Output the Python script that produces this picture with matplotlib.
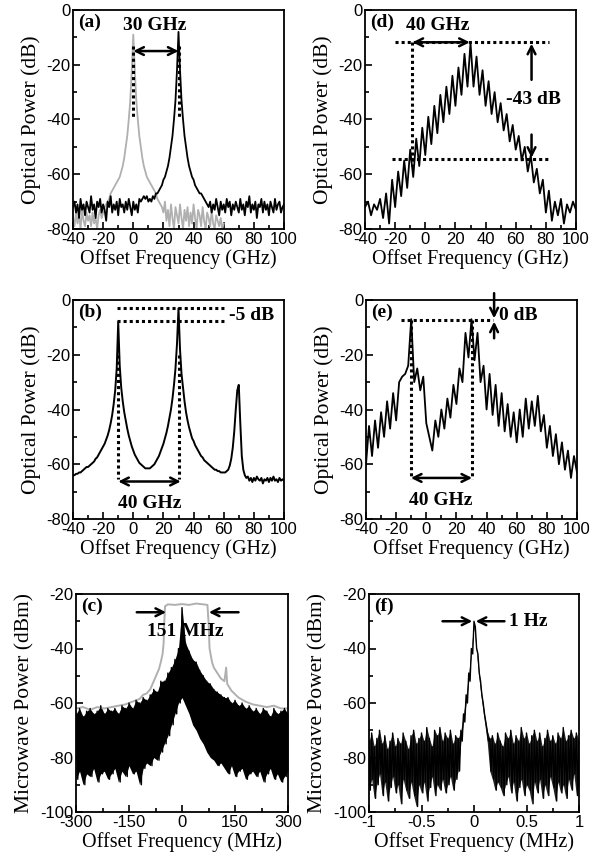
import numpy as np
import matplotlib
matplotlib.use("Agg")
import matplotlib.pyplot as plt
from matplotlib.ticker import MultipleLocator, FuncFormatter

plt.rcParams["font.family"] = ["Liberation Sans", "DejaVu Sans"]
plt.rcParams["axes.unicode_minus"] = False
SERIF = ["Liberation Serif", "DejaVu Serif"]
GREY = "#b0b0b0"

# ---- (a) two single lines, 1 GHz grid -40..100 (grey stops at 60)
a_freq = np.arange(-40, 101, 1)
a_black = [
    -72, -70, -74, -71, -76, -69, -73, -71, -75, -70,
    -72, -74, -68, -73, -71, -76, -70, -72, -69, -74,
    -71, -73, -77, -70, -72, -68, -74, -71, -73, -70,
    -75, -69, -72, -71, -74, -70, -73, -69, -72, -75,
    -70, -73, -71, -74, -69, -70, -69, -68, -69, -68,
    -70, -69, -70, -68, -69, -67, -67, -66, -65, -64,
    -62, -61, -59, -57, -54, -50, -46, -40, -33, -22,
    -8, -22, -33, -40, -46, -50, -54, -57, -59, -61,
    -62, -64, -65, -66, -67, -67, -68, -69, -70, -71,
    -72, -70, -74, -71, -73, -69, -72, -75, -70, -73,
    -71, -74, -69, -72, -70, -75, -71, -73, -70, -72,
    -74, -69, -73, -71, -75, -70, -72, -68, -74, -71,
    -73, -70, -76, -71, -72, -69, -74, -70, -73, -71,
    -75, -70, -72, -74, -69, -73, -71, -70, -74, -72,
    -71,
]
a_grey_freq = np.arange(-40, 61, 1)
a_grey = [
    -76, -79, -74, -78, -75, -80, -73, -77, -79, -74,
    -77, -75, -79, -74, -78, -76, -80, -75, -73, -76,
    -74, -72, -71, -70, -69, -67, -66, -65, -64, -63,
    -62, -61, -59, -57, -54, -50, -46, -40, -33, -22,
    -9, -22, -33, -40, -46, -50, -54, -57, -59, -61,
    -62, -63, -64, -65, -66, -67, -69, -70, -71, -72,
    -74, -70, -77, -73, -79, -71, -76, -80, -72, -75,
    -78, -71, -76, -80, -73, -77, -72, -79, -74, -78,
    -71, -76, -80, -73, -75, -79, -72, -77, -80, -74,
    -76, -79, -73, -78, -80, -75, -77, -79, -76, -80,
    -78,
]

# ---- (b) 1 GHz grid
b_freq = np.arange(-40, 101, 1)
b_power = [
    -64, -64, -63.5, -63.5, -63, -63, -62.5, -62, -61.5, -61,
    -61, -60.5, -60, -59.5, -59, -58, -57.5, -56.5, -55.5, -54.5,
    -53.5, -52.5, -51, -49.5, -47.5, -45, -42, -38, -33, -25,
    -8, -24, -32, -37, -41, -44, -47, -49.5, -51.5, -53.5,
    -55, -56.5, -57.5, -58.5, -59.5, -60, -60.5, -61, -61.5, -61.5,
    -61.5, -61.5, -61, -60.5, -60, -59, -58, -57, -55.5, -54,
    -52.5, -50.5, -48.5, -46, -43, -40, -36, -31, -25, -16,
    -3, -18, -27, -32, -37, -41, -44, -46.5, -48.5, -50.5,
    -51.5, -53, -54, -55, -56, -57, -57.5, -58.5, -59, -59.5,
    -60, -60.5, -61, -61.5, -62, -62, -62.5, -62.5, -63, -63,
    -63, -63, -62.5, -62, -60.5, -58, -54, -48, -40, -33,
    -31, -45, -57, -62, -64, -65, -64.5, -66, -65, -66.5,
    -65, -66, -64.5, -65.5, -66, -65, -67, -65.5, -66, -65,
    -66.5, -65, -66, -64.5, -66, -65.5, -66.5, -65, -66, -65.5,
    -66,
]

# ---- (d) comb, 2 GHz grid
d_freq = np.arange(-40, 101, 2)
d_power = [
    -72, -70, -75, -71, -73, -69, -76, -67, -78, -62,
    -72, -59, -68, -55, -65, -51, -61, -47, -57, -43,
    -53, -39, -49, -35, -45, -31, -41, -28, -38, -24,
    -35, -21, -31, -16, -28, -12, -28, -17, -31, -22,
    -35, -26, -38, -30, -41, -34, -44, -38, -48, -42,
    -51, -46, -55, -50, -59, -53, -63, -58, -67, -62,
    -74, -66, -77, -70, -75, -69, -78, -71, -74, -70,
    -73,
]

# ---- (e) comb, 2 GHz grid
e_freq = np.arange(-40, 101, 2)
e_power = [
    -60, -46, -57, -44, -54, -41, -50, -37, -47, -34,
    -44, -30, -28, -27, -24, -7, -30, -25, -33, -28,
    -45, -50, -55, -44, -50, -40, -47, -36, -43, -31,
    -38, -25, -30, -12, -21, -7, -22, -12, -30, -24,
    -40, -27, -42, -31, -46, -34, -48, -38, -50, -41,
    -52, -40, -50, -36, -47, -37, -46, -35, -48, -42,
    -54, -46, -57, -49, -60, -52, -62, -55, -65, -57,
    -63,
]

# ---- (c) microwave spectrum, MHz
c_grey_freq = [-300, -280, -260, -240, -220, -200, -180, -160, -140, -120,
               -110, -100, -90, -80, -75, -70, -65, -60, -55, -52,
               -50, -48, -40, -20, 0, 20, 40, 60, 72, 75,
               78, 85, 90, 100, 110, 120, 125, 128, 140, 160,
               180, 200, 220, 240, 260, 280, 300]
c_grey = [-62, -61.5, -62.5, -61.5, -62, -61.5, -61, -60.5, -59.5, -58.5,
          -57, -56.5, -55, -52, -50.5, -49, -47.5, -45, -42, -38,
          -30, -24.5, -23.8, -24, -23.7, -24, -23.5, -23.8, -24, -30,
          -40, -45, -47, -49, -51, -52, -47, -53, -55.5, -58,
          -59.5, -60.5, -61, -61.5, -61, -62, -62]
c_freq = np.arange(-300, 301, 10)
c_upper = [
    -64, -62, -65, -63, -62, -64, -63, -61, -64, -62,
    -63, -62, -64, -61, -62, -60, -62, -59, -60, -58,
    -59, -57, -55, -56, -52, -52, -49, -47, -44, -40,
    -25,
    -38, -41, -44, -45, -48, -50, -52, -53, -55, -56,
    -57, -58, -58, -60, -59, -61, -60, -62, -61, -63,
    -62, -64, -62, -63, -65, -62, -64, -63, -62, -64,
]
c_lower = [
    -88, -85, -90, -86, -87, -84, -89, -86, -85, -88,
    -86, -84, -89, -85, -87, -83, -86, -85, -90, -84,
    -82, -83, -80, -81, -78, -75, -72, -68, -64, -60,
    -58,
    -61, -64, -68, -70, -73, -75, -78, -80, -81, -83,
    -82, -84, -86, -83, -87, -85, -84, -88, -86, -85,
    -87, -85, -89, -86, -84, -88, -86, -89, -87, -85,
]

# ---- (f) microwave beat note, MHz
f_freq = np.arange(-40, 41, 1) * 0.025
f_upper = [
    -74, -71, -76, -73, -70, -75, -72, -77, -74, -71,
    -76, -73, -75, -71, -74, -77, -72, -70, -75, -73,
    -71, -74, -69, -73, -76, -70, -72, -69, -74, -71,
    -73, -70, -75, -72, -73, -70, -64, -57, -49, -40,
    -30,
    -40, -49, -57, -64, -70, -73, -72, -75, -71, -74,
    -76, -71, -73, -70, -75, -72, -74, -69, -73, -71,
    -75, -72, -70, -74, -71, -76, -73, -70, -74, -72,
    -75, -71, -73, -69, -74, -72, -70, -73, -71, -74,
]
f_lower = [
    -92, -88, -95, -90, -86, -94, -89, -96, -91, -87,
    -93, -90, -97, -88, -92, -95, -89, -94, -98, -90,
    -93, -89, -96, -91, -87, -94, -90, -92, -88, -93,
    -90, -87, -92, -88, -85, -74, -67, -60, -52, -42,
    -32,
    -42, -52, -60, -67, -74, -85, -88, -92, -89, -91,
    -94, -90, -87, -93, -89, -96, -91, -88, -94, -90,
    -92, -97, -89, -93, -88, -95, -90, -94, -87, -91,
    -96, -89, -93, -90, -95, -88, -92, -86, -94, -90,
]


def zigzag(x, hi, lo, dx):
    # alternate between the read upper and lower edges of the noise band
    x = np.asarray(x, dtype=float)
    xs = np.empty(2 * len(x))
    ys = np.empty(2 * len(x))
    xs[0::2] = x
    xs[1::2] = x + dx / 2
    ys[0::2] = hi
    ys[1::2] = lo
    return xs, ys


def style(ax, xlim, ylim, xmaj, xmin, ymaj, ymin, xlabel, ylabel, tag):
    ax.set_xlim(*xlim)
    ax.set_ylim(*ylim)
    ax.xaxis.set_major_locator(MultipleLocator(xmaj))
    ax.xaxis.set_minor_locator(MultipleLocator(xmin))
    ax.yaxis.set_major_locator(MultipleLocator(ymaj))
    ax.yaxis.set_minor_locator(MultipleLocator(ymin))
    ax.xaxis.set_major_formatter(FuncFormatter(lambda v, p: f"{v:g}"))
    ax.tick_params(which="both", direction="in", top=False, right=False,
                   labelsize=12, width=1.2, pad=2)
    ax.tick_params(which="major", length=5)
    ax.tick_params(which="minor", length=3)
    for s in ax.spines.values():
        s.set_linewidth(1.3)
    ax.set_xlabel(xlabel, family=SERIF, fontsize=14.5, labelpad=2)
    ax.set_ylabel(ylabel, family=SERIF, fontsize=15.5, labelpad=4)
    ax.text(0.025, 0.985, tag, transform=ax.transAxes, ha="left", va="top",
            family=SERIF, fontsize=14, fontweight="bold")


def arrow(ax, x0, y0, x1, y1, style_="<->"):
    ax.annotate("", xy=(x1, y1), xytext=(x0, y0), annotation_clip=False,
                arrowprops=dict(arrowstyle=style_, lw=1.8, color="k",
                                shrinkA=0, shrinkB=0, mutation_scale=14))


def dotted(ax, xs, ys):
    ax.plot(xs, ys, color="k", lw=2.2, ls=(0, (1, 1)), clip_on=False)


def bold(ax, x, y, s, ha="center"):
    ax.text(x, y, s, ha=ha, va="center", family=SERIF, fontsize=14,
            fontweight="bold")


fig = plt.figure(figsize=(6.02, 8.65), dpi=100)
W = 211 / 602
H = 219 / 865
ax_a = fig.add_axes([73 / 602, 1 - 229 / 865, W, H])
ax_d = fig.add_axes([365 / 602, 1 - 229 / 865, W, H])
ax_b = fig.add_axes([73 / 602, 1 - 519 / 865, W, H])
ax_e = fig.add_axes([366 / 602, 1 - 519 / 865, W, H])
ax_c = fig.add_axes([76 / 602, 1 - 812 / 865, 212 / 602, 218 / 865])
ax_f = fig.add_axes([369 / 602, 1 - 812 / 865, 210 / 602, 218 / 865])

opt_x = "Offset Frequency (GHz)"
opt_y = "Optical Power (dB)"
mw_x = "Offset Frequency (MHz)"
mw_y = "Microwave Power (dBm)"

# (a)
ax = ax_a
ax.plot(a_grey_freq, a_grey, color=GREY, lw=1.3)
ax.plot(a_freq, a_black, color="k", lw=1.3)
style(ax, (-40, 100), (-80, 0), 20, 10, 20, 10, opt_x, opt_y, "(a)")
dotted(ax, [0, 0], [-13, -39])
dotted(ax, [30, 30], [-13, -39])
arrow(ax, 0, -15, 30, -15)
bold(ax, 14.5, -5.5, "30 GHz")

# (b)
ax = ax_b
ax.plot(b_freq, b_power, color="k", lw=1.4)
style(ax, (-40, 100), (-80, 0), 20, 10, 20, 10, opt_x, opt_y, "(b)")
dotted(ax, [-10.5, 61], [-3, -3])
dotted(ax, [-10.5, 61], [-7.5, -7.5])
dotted(ax, [-10, -10], [-20, -65.5])
dotted(ax, [30, 30], [-20, -65.5])
arrow(ax, -10, -66.3, 31.5, -66.3)
bold(ax, 63.5, -5.5, "-5 dB", ha="left")
bold(ax, 11, -74.2, "40 GHz")

# (c)
ax = ax_c
ax.plot(c_grey_freq, c_grey, color=GREY, lw=1.4)
ax.fill_between(c_freq, c_lower, c_upper, color="k", lw=0)
zx, zy = zigzag(c_freq, c_upper, c_lower, 10)
ax.plot(zx, zy, color="k", lw=1.0)
style(ax, (-300, 300), (-100, -20), 150, 75, 20, 10, mw_x, mw_y, "(c)")
arrow(ax, -128, -26.7, -45, -26.7, "->")
arrow(ax, 160, -26.7, 76, -26.7, "->")
bold(ax, 9, -33.8, "151 MHz")

# (d)
ax = ax_d
ax.plot(d_freq, d_power, color="k", lw=1.3)
style(ax, (-40, 100), (-80, 0), 20, 10, 20, 10, opt_x, opt_y, "(d)")
dotted(ax, [-20, 82], [-11.8, -11.8])
dotted(ax, [-22, 82], [-54.5, -54.5])
dotted(ax, [-8.5, -8.5], [-11.8, -57])
arrow(ax, -8.5, -11.8, 29.5, -11.8)
arrow(ax, 70.5, -25.5, 70.5, -12.3, "->")
arrow(ax, 70.5, -45.5, 70.5, -54, "->")
bold(ax, 8, -5.5, "40 GHz")
bold(ax, 72, -32.8, "-43 dB")

# (e)
ax = ax_e
ax.plot(e_freq, e_power, color="k", lw=1.3)
style(ax, (-40, 100), (-80, 0), 20, 10, 20, 10, opt_x, opt_y, "(e)")
dotted(ax, [-16.7, 44], [-7.3, -7.3])
dotted(ax, [-10.2, -10.2], [-7.3, -65.5])
dotted(ax, [30.4, 30.4], [-7.3, -65.5])
arrow(ax, -10.2, -65, 30.4, -65)
arrow(ax, 45, 2.5, 45, -6.7, "->")
arrow(ax, 45, -14, 45, -7.9, "->")
bold(ax, 48.5, -5.5, "0 dB", ha="left")
bold(ax, 9.6, -73.2, "40 GHz")

# (f)
ax = ax_f
ax.fill_between(f_freq, f_lower, f_upper, color="k", lw=0, alpha=0.85)
zx, zy = zigzag(f_freq, f_upper, f_lower, 0.025)
ax.plot(zx, zy, color="k", lw=1.0)
style(ax, (-1, 1), (-100, -20), 0.5, 0.25, 20, 10, mw_x, mw_y, "(f)")
arrow(ax, -0.30, -30, -0.016, -30, "->")
arrow(ax, 0.29, -30, 0.016, -30, "->")
bold(ax, 0.33, -30.2, "1 Hz", ha="left")

fig.savefig("out.png", dpi=100)
